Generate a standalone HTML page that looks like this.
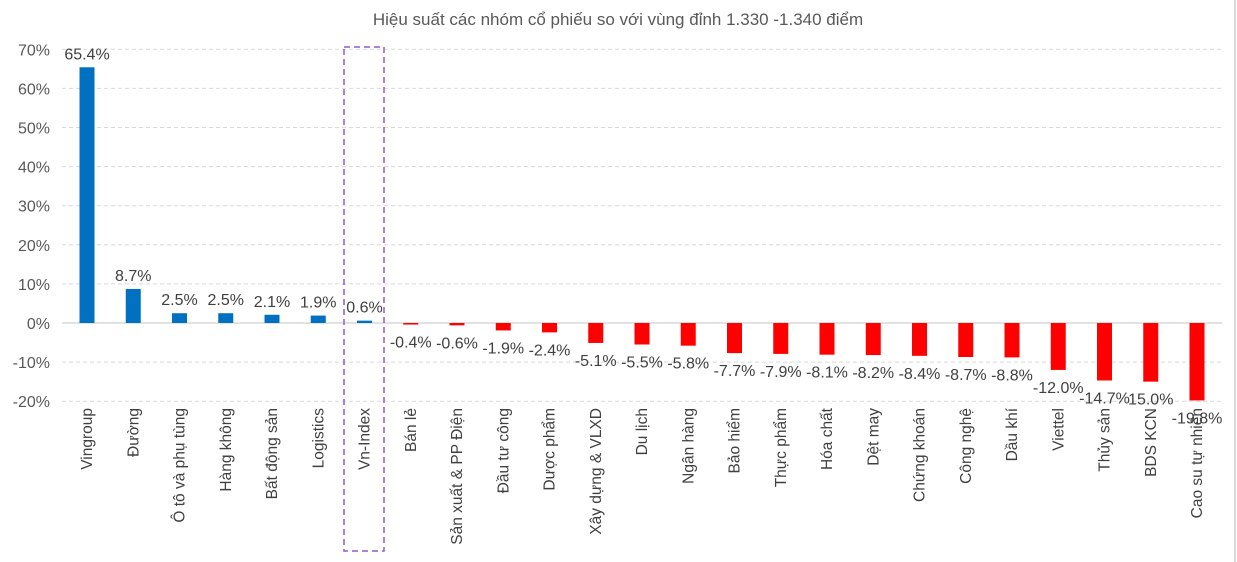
<!DOCTYPE html>
<html><head><meta charset="utf-8"><style>
body{margin:0;background:#fff;}
svg{display:block;font-family:"Liberation Sans",sans-serif;}
</style></head><body>
<svg width="1237" height="562" xmlns="http://www.w3.org/2000/svg">
<rect x="0" y="0" width="1237" height="562" fill="#fff"/>
<line x1="1235" y1="0" x2="1235" y2="562" stroke="#d9d9d9" stroke-width="2"/>
<text x="618" y="25" font-size="17" fill="#595959" text-anchor="middle">Hiệu suất các nhóm cổ phiếu so với vùng đỉnh 1.330 -1.340 điểm</text>
<g id="grid" stroke="#d9d9d9" stroke-dasharray="4,3" stroke-width="1"></g>
<g id="yl" font-size="16" fill="#595959" text-anchor="end"></g>
<g id="bars"></g>
<rect x="344" y="47" width="40" height="504" fill="none" stroke="#8e5cc8" stroke-width="1.5" stroke-dasharray="6,4"/>
<script>
var NS="http://www.w3.org/2000/svg";
function el(t,a,p,txt){var e=document.createElementNS(NS,t);for(var k in a)e.setAttribute(k,a[k]);if(txt!==undefined)e.textContent=txt;p.appendChild(e);return e;}
var y0=323,s=3.91;
var g=document.getElementById('grid'),yl=document.getElementById('yl'),b=document.getElementById('bars');
for(var v=70;v>=-20;v-=10){var y=y0-v*s;
 if(v!=0)el('line',{x1:62,x2:1222,y1:y,y2:y},g);
 el('text',{x:50,y:y+6},yl,v+'%');}
el('line',{x1:62,x2:1222,y1:y0,y2:y0,stroke:'#d9d9d9','stroke-width':1.5},b);
var d=[["Vingroup",65.4],["Đường",8.7],["Ô tô và phụ tùng",2.5],["Hàng không",2.5],["Bất động sản",2.1],["Logistics",1.9],["Vn-Index",0.6],["Bán lẻ",-0.4],["Sản xuất & PP Điện",-0.6],["Đầu tư công",-1.9],["Dược phẩm",-2.4],["Xây dựng & VLXD",-5.1],["Du lịch",-5.5],["Ngân hàng",-5.8],["Bảo hiểm",-7.7],["Thực phẩm",-7.9],["Hóa chất",-8.1],["Dệt may",-8.2],["Chứng khoán",-8.4],["Công nghệ",-8.7],["Dầu khí",-8.8],["Viettel",-12.0],["Thủy sản",-14.7],["BDS KCN",-15.0],["Cao su tự nhiên",-19.8]];
var x0=87,dx=(1197-87)/(d.length-1);
d.forEach(function(r,i){var cx=x0+i*dx,v=r[1],h=Math.abs(v)*s;
 var top=v>=0?y0-h:y0;
 el('rect',{x:cx-7.5,y:top,width:15,height:Math.max(h,1.5),fill:v>=0?'#0070c0':'#ff0000'},b);
 var ly=v>=0?y0-h-8:y0+h+23;
 var lab=v.toFixed(1)+'%';if(r[0]=="BDS KCN")lab="15.0%";
 el('text',{x:cx,y:ly,'font-size':16,fill:'#404040','text-anchor':'middle'},b,lab);
 el('text',{x:0,y:0,'font-size':15.5,fill:'#404040','text-anchor':'end',transform:'translate('+(cx+5)+',408) rotate(-90)'},b,r[0]);
});
</script>
</svg>
</body></html>
